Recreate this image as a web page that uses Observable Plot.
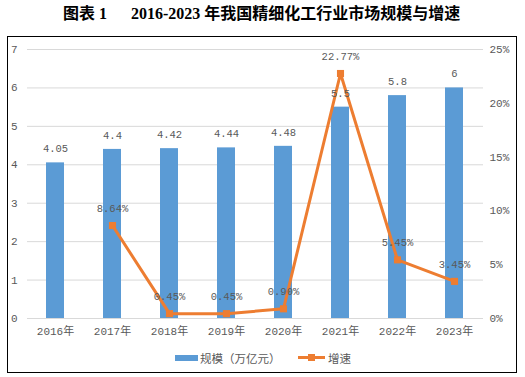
<!DOCTYPE html>
<html><head><meta charset="utf-8">
<script src="https://cdn.jsdelivr.net/npm/d3@7"></script>
<script src="https://cdn.jsdelivr.net/npm/@observablehq/plot@0.6"></script>
<style>
body{margin:0;background:#fff;width:525px;height:377px;position:relative;overflow:hidden;font-family:"Noto Sans CJK SC",sans-serif}
.t{position:absolute;top:4px;font-family:"Liberation Serif","Noto Sans CJK SC",serif;font-weight:bold;font-size:16px;line-height:20px;color:#000;white-space:nowrap}
#box{position:absolute;left:7px;top:36px;width:510px;height:337px;border:1px solid #000;box-sizing:border-box}
#chart{position:absolute;left:0;top:0}
.lg{position:absolute;font-size:11.5px;line-height:14px;color:#595959;white-space:nowrap}
.sw{position:absolute}
</style></head>
<body>
<div class="t" style="left:63px">图表 1</div>
<div class="t" style="left:131px">2016-2023 年我国精细化工行业市场规模与增速</div>
<div id="box"></div>
<div id="chart"></div>
<div class="sw" style="left:175px;top:355px;width:23px;height:6px;background:#5B9BD5"></div>
<div class="lg" style="left:200px;top:351px">规模（万亿元）</div>
<div class="sw" style="left:298px;top:356px;width:27px;height:3px;background:#ED7D31"></div>
<div class="sw" style="left:308px;top:354px;width:7px;height:7px;background:#ED7D31"></div>
<div class="lg" style="left:328px;top:351px">增速</div>
<script>
const years = ["2016年","2017年","2018年","2019年","2020年","2021年","2022年","2023年"];
const sizes = [4.05, 4.4, 4.42, 4.44, 4.48, 5.5, 5.8, 6];
const sizeLabels = ["4.05","4.4","4.42","4.44","4.48","5.5","5.8","6"];
const growth = [null, 8.64, 0.45, 0.45, 0.90, 22.77, 5.45, 3.45];
const leftTicks = [0,1,2,3,4,5,6,7];
const rightTicks = [0,5,10,15,20,25];

const k = 7/25;
const bars = years.map((y,i)=>({year:y, v:sizes[i], label:sizeLabels[i]}));
const line = years.map((y,i)=>({year:y, g:growth[i]})).filter(d=>d.g!=null);
const mono = "'Liberation Mono','Noto Sans CJK SC',monospace";

const chart = Plot.plot({
  width:525, height:345,
  marginTop:49, marginBottom:27, marginLeft:27, marginRight:42,
  style:{fontSize:"11px", color:"#595959", fontFamily:mono, background:"transparent"},
  x:{domain:years, type:"band", paddingInner:0.684, paddingOuter:0.342, label:null},
  y:{domain:[0,7], label:null},
  marks:[
    Plot.ruleY(leftTicks,{stroke:"#d9d9d9", strokeWidth:1}),
    Plot.barY(bars,{x:"year", y:"v", fill:"#5B9BD5"}),
    Plot.line(line,{x:"year", y:d=>d.g*k, stroke:"#ED7D31", strokeWidth:3}),
    Plot.dot(line,{x:"year", y:d=>d.g*k, symbol:"square", r:4, fill:"#ED7D31"}),
    Plot.text(bars,{x:"year", y:"v", text:"label", dy:-14, fill:"#595959", fontSize:10.5}),
    Plot.text(line,{x:"year", y:d=>d.g*k, text:d=>d.g.toFixed(2)+"%", dy:-17, fill:"#595959", fontSize:10.5}),
    Plot.axisY(leftTicks,{anchor:"left", tickSize:0, tickPadding:10, label:null}),
    Plot.axisY(rightTicks.map(v=>v*k),{anchor:"right", tickSize:0, tickPadding:6, label:null, tickFormat:d=>Math.round(d/k)+"%"}),
    Plot.axisX({tickSize:0, tickPadding:9, label:null})
  ]
});
document.getElementById("chart").appendChild(chart);
</script>
</body></html>
